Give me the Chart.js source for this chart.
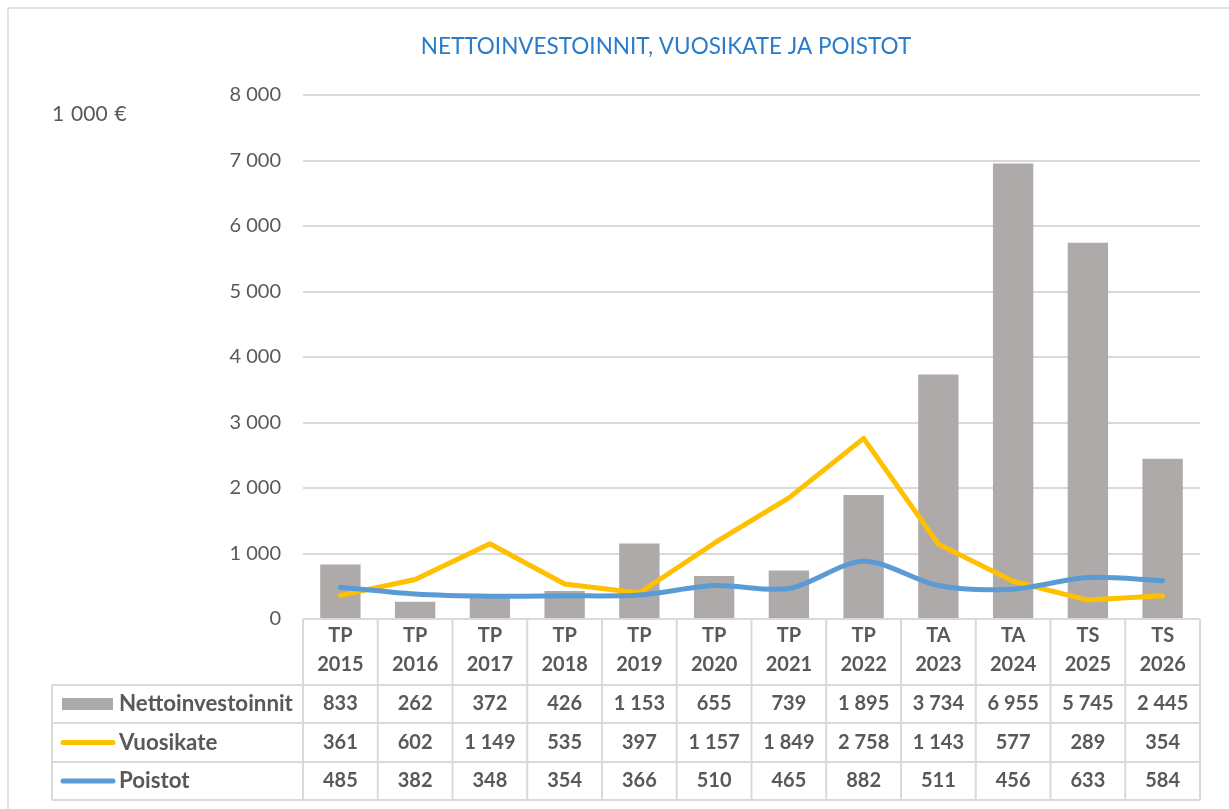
<!DOCTYPE html>
<html>
<head>
<meta charset="utf-8">
<script src="https://cdn.jsdelivr.net/npm/chart.js@4"></script>
<style>
html,body{margin:0;padding:0;background:#fff;}
#wrap{position:absolute;left:0;top:0;width:1229px;height:809px;}
</style>
</head>
<body>
<div id="wrap"><canvas id="c" width="1229" height="809"></canvas></div>
<script>
const catType = ['TP','TP','TP','TP','TP','TP','TP','TP','TA','TA','TS','TS'];
const catYear = ['2015','2016','2017','2018','2019','2020','2021','2022','2023','2024','2025','2026'];
const nettoinvestoinnit = [833,262,372,426,1153,655,739,1895,3734,6955,5745,2445];
const vuosikate = [361,602,1149,535,397,1157,1849,2758,1143,577,289,354];
const poistot = [485,382,348,354,366,510,465,882,511,456,633,584];
const yTicks = [0,1000,2000,3000,4000,5000,6000,7000,8000];
const titleText = 'NETTOINVESTOINNIT, VUOSIKATE JA POISTOT';
const unitText = '1 000 €';

const FONT = 'Lato';
const TXT = '#595959';
const GRID = '#D9D9D9';
const fmt = v => String(v).replace(/\B(?=(\d{3})+(?!\d))/g, '\u00a0');

const tablePlugin = {
  id: 'dataTable',
  beforeDraw(chart) {
    const ctx = chart.ctx;
    ctx.save();
    ctx.strokeStyle = GRID;
    ctx.lineWidth = 1.5;
    ctx.beginPath();
    ctx.moveTo(8, 809); ctx.lineTo(8, 8); ctx.lineTo(1229, 8);
    ctx.stroke();
    ctx.fillStyle = '#2B7BCB';
    ctx.font = '22.5px ' + FONT;
    ctx.textAlign = 'center';
    ctx.textBaseline = 'middle';
    ctx.fillText(titleText, 666, 47);
    ctx.fillStyle = TXT;
    ctx.font = '21px ' + FONT;
    ctx.textAlign = 'left';
    try { ctx.wordSpacing = '1.5px'; } catch (e) {}
    ctx.fillText(unitText, 52, 114);
    try { ctx.wordSpacing = '0px'; } catch (e) {}
    ctx.restore();
  },
  afterDraw(chart) {
    const ctx = chart.ctx;
    const a = chart.chartArea;
    const xs = chart.scales.x;
    const n = catYear.length;
    const w = (a.right - a.left) / n;
    const top = a.bottom;
    const rows = [top, top + 66, top + 104, top + 143, top + 181];
    const leftX = 52;
    ctx.save();
    ctx.strokeStyle = GRID;
    ctx.lineWidth = 2;
    ctx.beginPath();
    ctx.moveTo(a.left, rows[0]); ctx.lineTo(a.right, rows[0]);
    for (let i = 1; i < rows.length; i++) { ctx.moveTo(leftX, rows[i]); ctx.lineTo(a.right, rows[i]); }
    for (let i = 0; i <= n; i++) {
      const x = a.left + i * w;
      ctx.moveTo(x, rows[0]); ctx.lineTo(x, rows[4]);
    }
    ctx.moveTo(leftX, rows[1]); ctx.lineTo(leftX, rows[4]);
    ctx.stroke();

    ctx.fillStyle = TXT;
    ctx.font = 'bold 20px ' + FONT;
    ctx.textAlign = 'center';
    ctx.textBaseline = 'middle';
    const series = [nettoinvestoinnit, vuosikate, poistot];
    for (let i = 0; i < n; i++) {
      const cx = xs.getPixelForValue(i);
      ctx.fillText(catType[i], cx, top + 17);
      ctx.fillText(catYear[i], cx, top + 46);
      for (let r = 0; r < 3; r++) {
        ctx.fillText(fmt(series[r][i]), cx, (rows[r + 1] + rows[r + 2]) / 2);
      }
    }
    const ds = chart.data.datasets;
    ctx.textAlign = 'left';
    ctx.font = 'bold 22.3px ' + FONT;
    for (let r = 0; r < 3; r++) {
      const cy = (rows[r + 1] + rows[r + 2]) / 2;
      if (ds[r].type === 'bar') {
        ctx.fillStyle = ds[r].backgroundColor;
        ctx.fillRect(62, cy - 6, 51, 12);
      } else {
        ctx.strokeStyle = ds[r].borderColor;
        ctx.lineWidth = 5;
        ctx.lineCap = 'round';
        ctx.beginPath(); ctx.moveTo(63, cy); ctx.lineTo(113, cy); ctx.stroke();
      }
      ctx.fillStyle = TXT;
      ctx.fillText(ds[r].label, 119, cy);
    }
    ctx.restore();
  }
};

new Chart(document.getElementById('c'), {
  data: {
    labels: catYear.map((y, i) => catType[i] + ' ' + y),
    datasets: [
      { type: 'bar', label: 'Nettoinvestoinnit', data: nettoinvestoinnit, backgroundColor: '#AEAAAA',
        barPercentage: 0.54, categoryPercentage: 1, order: 3 },
      { type: 'line', label: 'Vuosikate', data: vuosikate, borderColor: '#FFC000', borderWidth: 5,
        pointRadius: 0, tension: 0, order: 2, borderCapStyle: 'round', borderJoinStyle: 'round' },
      { type: 'line', label: 'Poistot', data: poistot, borderColor: '#5B9BD5', borderWidth: 5,
        pointRadius: 0, tension: 0.3, order: 1, borderCapStyle: 'round', borderJoinStyle: 'round' }
    ]
  },
  options: {
    responsive: false,
    animation: false,
    layout: { autoPadding: false, padding: { left: 0, right: 29, top: 95, bottom: 0 } },
    plugins: {
      legend: { display: false },
      tooltip: { enabled: false },
      title: { display: false }
    },
    scales: {
      x: {
        grid: { display: false },
        border: { display: false },
        ticks: { display: false },
        afterFit(s) { s.height = 190; }
      },
      y: {
        min: 0, max: 8000,
        afterBuildTicks(s) { s.ticks = yTicks.map(v => ({ value: v })); },
        grid: { color: GRID, lineWidth: 2, drawTicks: false },
        border: { display: false },
        ticks: { color: TXT, padding: 22, font: { family: FONT, size: 20 }, callback: v => fmt(v) },
        afterFit(s) { s.width = 303; }
      }
    }
  },
  plugins: [tablePlugin]
});
</script>
</body>
</html>
